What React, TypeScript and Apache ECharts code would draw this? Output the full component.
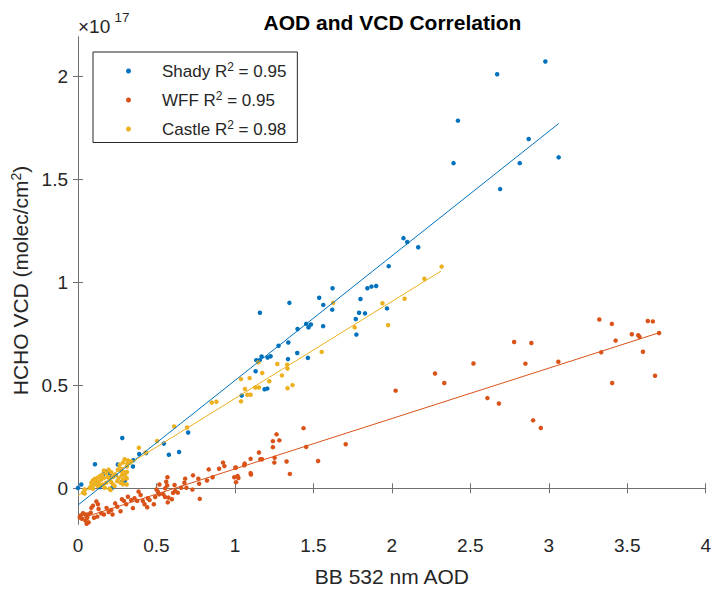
import React, { useEffect, useRef } from 'react';
import * as echarts from 'echarts';

const FONT = '"Liberation Sans", Arial, Helvetica, sans-serif';

const chartTitle = 'AOD and VCD Correlation';
const xAxisTitle = 'BB 532 nm AOD';
const yTicks = [0, 0.5, 1, 1.5, 2];
const seriesNames = ['Shady', 'WFF', 'Castle'];
const r2Values = ['0.95', '0.95', '0.98'];
const seriesColors = ['#0072BD', '#D95319', '#EDB120'];

const shadyPoints = [
  [0.000, 0.002], [0.021, 0.019], [0.108, 0.117], [0.140, 0.006], [0.161, 0.067], [0.174, 0.082],
  [0.195, 0.081], [0.205, 0.063], [0.218, 0.003], [0.240, 0.065], [0.254, 0.116], [0.276, 0.030],
  [0.282, 0.244], [0.299, 0.038], [0.350, 0.106], [0.352, 0.136], [0.390, 0.167], [0.434, 0.171],
  [0.547, 0.217], [0.579, 0.163], [0.644, 0.176], [0.702, 0.271], [1.043, 0.450], [1.132, 0.568],
  [1.136, 0.622], [1.158, 0.622], [1.159, 0.852], [1.170, 0.640], [1.189, 0.481], [1.206, 0.484],
  [1.208, 0.635], [1.227, 0.641], [1.278, 0.692], [1.338, 0.627], [1.340, 0.708], [1.347, 0.900],
  [1.397, 0.657], [1.399, 0.773], [1.454, 0.798], [1.465, 0.633], [1.469, 0.781], [1.484, 0.795],
  [1.537, 0.925], [1.562, 0.787], [1.563, 0.890], [1.620, 0.867], [1.622, 0.971], [1.770, 0.822],
  [1.774, 0.746], [1.791, 0.852], [1.800, 0.919], [1.829, 0.849], [1.844, 0.971], [1.870, 0.979],
  [1.900, 0.982], [1.969, 0.873], [1.980, 1.078], [2.074, 1.214], [2.098, 1.195], [2.168, 1.170],
  [2.393, 1.578], [2.421, 1.784], [2.671, 2.009], [2.690, 1.452], [2.815, 1.578], [2.872, 1.695],
  [2.978, 2.071], [3.063, 1.606],
];

const wffPoints = [
  [0.011, -0.140], [0.017, -0.132], [0.025, -0.148], [0.032, -0.121], [0.047, -0.127], [0.047, -0.156],
  [0.055, -0.172], [0.059, -0.143], [0.064, -0.127], [0.068, -0.165], [0.081, -0.118], [0.085, -0.095],
  [0.095, -0.084], [0.102, -0.143], [0.117, -0.064], [0.123, -0.137], [0.127, -0.077], [0.131, -0.100],
  [0.148, -0.121], [0.165, -0.127], [0.182, -0.095], [0.195, -0.115], [0.212, -0.105], [0.220, -0.127],
  [0.237, -0.073], [0.250, -0.089], [0.271, -0.111], [0.280, -0.053], [0.293, -0.061], [0.307, -0.077],
  [0.318, -0.041], [0.339, -0.057], [0.350, -0.096], [0.360, -0.048], [0.377, -0.061], [0.386, -0.016],
  [0.399, -0.032], [0.413, -0.061], [0.424, -0.077], [0.441, -0.092], [0.445, -0.048], [0.456, -0.057],
  [0.483, -0.077], [0.492, -0.042], [0.500, -0.005], [0.509, -0.016], [0.517, -0.029], [0.519, 0.019],
  [0.543, -0.029], [0.555, -0.042], [0.555, 0.000], [0.562, 0.032], [0.568, 0.014], [0.570, 0.054],
  [0.572, -0.068], [0.577, -0.045], [0.598, -0.053], [0.606, -0.022], [0.615, 0.016], [0.619, -0.013],
  [0.636, -0.021], [0.657, 0.003], [0.678, 0.027], [0.683, 0.047], [0.691, 0.003], [0.729, -0.006],
  [0.733, 0.063], [0.767, 0.047], [0.772, 0.022], [0.776, -0.051], [0.822, 0.038], [0.833, 0.092],
  [0.858, 0.054], [0.899, 0.095], [0.924, 0.125], [0.933, 0.108], [0.996, 0.054], [1.005, 0.101],
  [1.003, 0.100], [1.007, 0.030], [1.017, 0.060], [1.022, 0.050], [1.060, 0.112], [1.062, 0.120],
  [1.100, 0.074], [1.100, 0.143], [1.102, 0.067], [1.153, 0.174], [1.162, 0.141], [1.172, 0.141],
  [1.242, 0.200], [1.242, 0.229], [1.251, 0.125], [1.253, 0.148], [1.265, 0.262], [1.283, 0.233],
  [1.329, 0.130], [1.350, 0.070], [1.437, 0.292], [1.454, 0.201], [1.530, 0.133], [1.706, 0.214],
  [2.024, 0.474], [2.275, 0.557], [2.334, 0.511], [2.520, 0.606], [2.609, 0.438], [2.682, 0.412],
  [2.779, 0.710], [2.851, 0.605], [2.889, 0.705], [2.900, 0.330], [2.949, 0.293], [3.061, 0.614],
  [3.322, 0.819], [3.334, 0.660], [3.402, 0.798], [3.404, 0.511], [3.426, 0.717], [3.529, 0.748],
  [3.570, 0.743], [3.578, 0.735], [3.600, 0.663], [3.631, 0.812], [3.663, 0.810], [3.677, 0.546],
  [3.703, 0.754],
];

const castlePoints = [
  [0.032, -0.021], [0.042, -0.005], [0.043, -0.025], [0.074, 0.003], [0.085, 0.011], [0.085, 0.027],
  [0.095, -0.002], [0.095, 0.038], [0.106, 0.019], [0.106, 0.046], [0.117, 0.035], [0.123, 0.051],
  [0.127, 0.011], [0.131, 0.030], [0.138, 0.058], [0.144, 0.014], [0.148, 0.043], [0.153, 0.066],
  [0.159, 0.019], [0.165, 0.051], [0.165, 0.087], [0.170, 0.003], [0.180, 0.027], [0.180, 0.074],
  [0.191, 0.055], [0.195, 0.090], [0.201, -0.002], [0.201, 0.043], [0.208, -0.008], [0.212, 0.030],
  [0.212, 0.078], [0.223, 0.019], [0.223, 0.055], [0.233, 0.011], [0.237, 0.066], [0.250, 0.035],
  [0.254, 0.090], [0.259, 0.051], [0.265, 0.114], [0.269, 0.095], [0.271, 0.027], [0.276, 0.093],
  [0.278, 0.081], [0.280, 0.062], [0.286, 0.020], [0.286, 0.043], [0.286, 0.125], [0.297, 0.078],
  [0.297, 0.141], [0.299, 0.067], [0.307, 0.051], [0.310, 0.019], [0.310, 0.048], [0.312, 0.079],
  [0.312, 0.106], [0.314, 0.119], [0.318, 0.135], [0.329, 0.124], [0.339, 0.130], [0.388, 0.197],
  [0.430, 0.174], [0.504, 0.230], [0.613, 0.300], [0.695, 0.295], [0.852, 0.416], [0.882, 0.420],
  [1.039, 0.422], [1.039, 0.530], [1.064, 0.482], [1.079, 0.454], [1.094, 0.535], [1.100, 0.454],
  [1.130, 0.489], [1.149, 0.611], [1.153, 0.489], [1.174, 0.560], [1.219, 0.520], [1.270, 0.603],
  [1.299, 0.548], [1.333, 0.600], [1.335, 0.581], [1.335, 0.486], [1.367, 0.501], [1.553, 0.662],
  [1.626, 0.900], [1.763, 0.781], [1.940, 0.898], [1.976, 0.792], [2.081, 0.920], [2.207, 1.017],
  [2.317, 1.076],
];

const shadyFit = [[0, -0.081], [3.063, 1.770]];
const wffFit = [[0.005, -0.149], [3.703, 0.755]];
const castleFit = [[0, -0.035], [2.313, 1.054]];

const AXIS_COLOR = '#707070';
const TEXT_COLOR = '#262626';

export default function App() {
  const ref = useRef<HTMLDivElement>(null);

  useEffect(() => {
    if (!ref.current) return;
    const chart = echarts.init(ref.current, null, { renderer: 'svg' });

    const pointSets = [shadyPoints, wffPoints, castlePoints];
    const fitSets = [shadyFit, wffFit, castleFit];

    const scatterSeries = seriesNames.map((name, i) => ({
      name,
      type: 'scatter',
      data: pointSets[i],
      symbol: 'circle',
      symbolSize: 4.5,
      itemStyle: { color: seriesColors[i], opacity: 1 },
      emphasis: { disabled: true },
    }));
    const fitSeries = seriesNames.map((name, i) => ({
      name: name + ' fit',
      type: 'line',
      data: fitSets[i],
      showSymbol: false,
      symbol: 'none',
      lineStyle: { color: seriesColors[i], width: 1 },
      itemStyle: { color: seriesColors[i] },
      emphasis: { disabled: true },
      z: 3,
    }));

    const commonX = {
      type: 'value',
      min: 0,
      max: 4,
      interval: 0.5,
      splitLine: { show: false },
      axisLine: { show: true, lineStyle: { color: AXIS_COLOR, width: 1 } },
      axisTick: { show: true, inside: true, length: 5, lineStyle: { color: AXIS_COLOR } },
    };
    const commonY = {
      type: 'value',
      min: -0.173,
      max: 2.19,
      splitLine: { show: false },
      axisLine: { show: true, lineStyle: { color: AXIS_COLOR, width: 1 } },
      axisTick: { show: true, inside: true, length: 5, customValues: yTicks, lineStyle: { color: AXIS_COLOR } },
    };

    const option = {
      animation: false,
      backgroundColor: '#ffffff',
      textStyle: { fontFamily: FONT },
      title: {
        text: chartTitle,
        left: 392.5,
        top: 12,
        textAlign: 'center',
        padding: 0,
        textStyle: { fontFamily: FONT, fontSize: 21, fontWeight: 'bold', color: '#000' },
      },
      grid: { left: 78, right: 7, top: 37, bottom: 58, containLabel: false },
      legend: {
        data: seriesNames,
        orient: 'vertical',
        left: 93,
        top: 52,
        itemWidth: 5,
        itemHeight: 5,
        itemGap: 10.5,
        icon: 'circle',
        padding: [9, 11, 5, 33],
        borderColor: '#262626',
        borderWidth: 1,
        borderRadius: 0,
        backgroundColor: '#ffffff',
        selectedMode: false,
        formatter: (name: string) => {
          const i = seriesNames.indexOf(name);
          return `{t0|${name} R}{s|2}{t| = ${r2Values[i]}}`;
        },
        textStyle: {
          fontFamily: FONT,
          color: TEXT_COLOR,
          rich: {
            t0: { fontFamily: FONT, fontSize: 17, color: TEXT_COLOR, lineHeight: 20, padding: [0, 0, 0, 26] },
            t: { fontFamily: FONT, fontSize: 17, color: TEXT_COLOR, lineHeight: 20 },
            s: { fontFamily: FONT, fontSize: 12, color: TEXT_COLOR, lineHeight: 12, verticalAlign: 'top' },
          },
        },
      },
      xAxis: [
        {
          ...commonX,
          position: 'bottom',
          name: xAxisTitle,
          nameLocation: 'middle',
          nameGap: 42,
          nameTextStyle: { fontFamily: FONT, fontSize: 21, color: TEXT_COLOR },
          axisLabel: { show: true, fontFamily: FONT, fontSize: 19, color: TEXT_COLOR, margin: 12 },
        },
        {
          ...commonX,
          position: 'top',
          axisLabel: { show: false },
        },
      ],
      yAxis: [
        {
          ...commonY,
          position: 'left',
          name: '{a|HCHO VCD (molec/cm}{s|2}{a|)}',
          nameLocation: 'middle',
          nameGap: 40,
          nameTextStyle: {
            fontFamily: FONT,
            color: TEXT_COLOR,
            rich: {
              a: { fontFamily: FONT, fontSize: 21, color: TEXT_COLOR, lineHeight: 22 },
              s: { fontFamily: FONT, fontSize: 14, color: TEXT_COLOR, lineHeight: 14, verticalAlign: 'top' },
            },
          },
          axisLabel: {
            show: true,
            fontFamily: FONT,
            fontSize: 19,
            color: TEXT_COLOR,
            margin: 10,
            customValues: yTicks,
          },
        },
        {
          ...commonY,
          position: 'right',
          axisLabel: { show: false },
        },
      ],
      graphic: [
        {
          type: 'text',
          x: 78,
          y: 26.5,
          style: { text: '×10', fontFamily: FONT, fontSize: 19, fill: TEXT_COLOR, align: 'left', verticalAlign: 'middle' },
        },
        {
          type: 'text',
          x: 114.5,
          y: 17.5,
          style: { text: '17', fontFamily: FONT, fontSize: 13.5, fill: TEXT_COLOR, align: 'left', verticalAlign: 'middle' },
        },
      ],
      series: [...scatterSeries, ...fitSeries],
    };

    chart.setOption(option as any);
    return () => chart.dispose();
  }, []);

  return (
    <div
      ref={ref}
      style={{ position: 'fixed', left: 0, top: 0, width: 714, height: 592, background: '#ffffff' }}
    />
  );
}
